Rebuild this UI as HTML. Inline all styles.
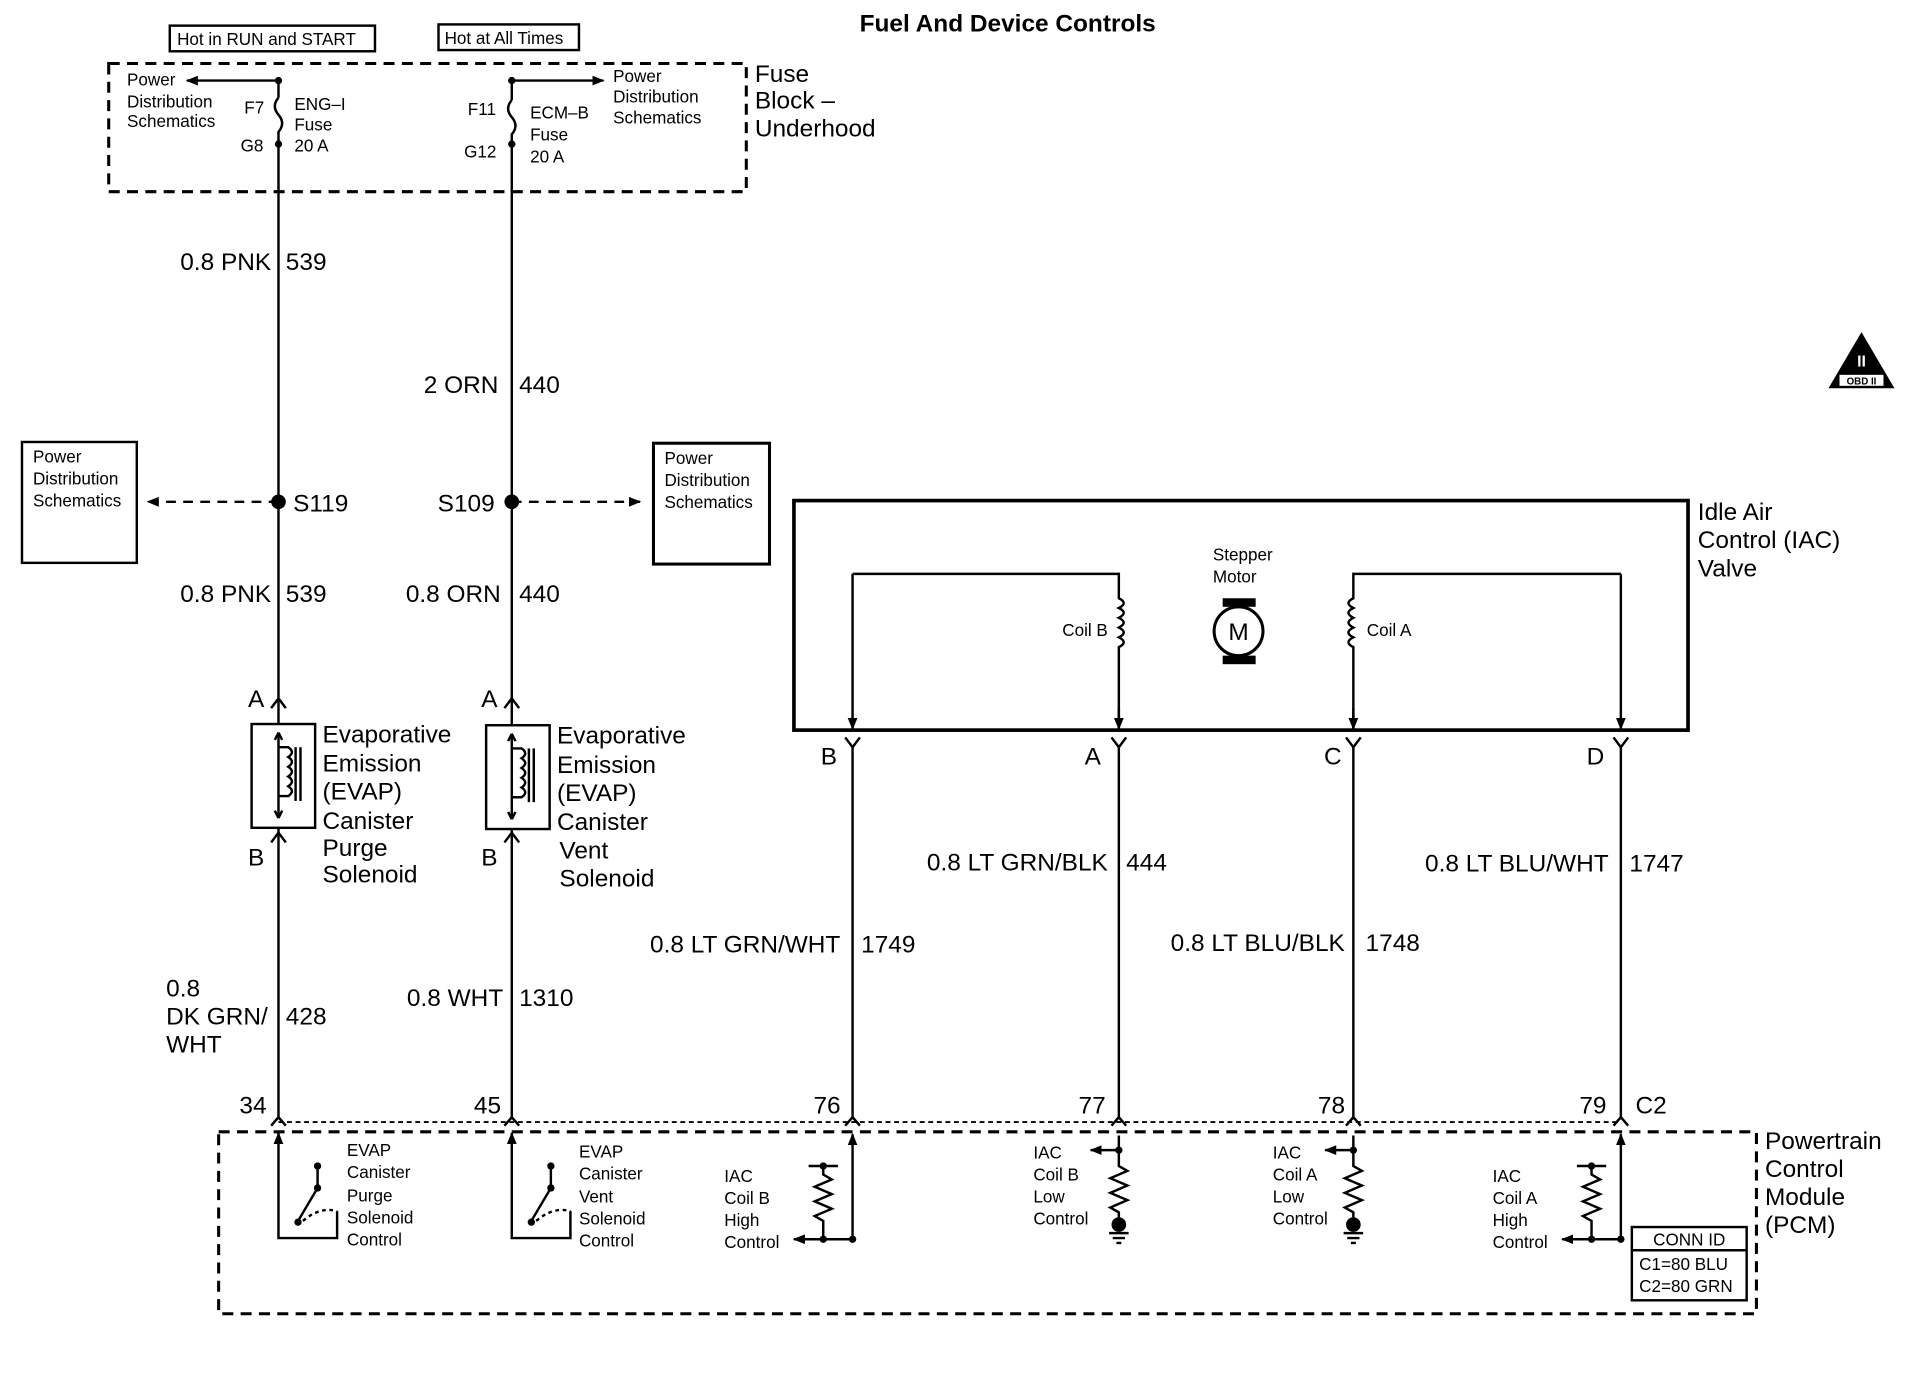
<!DOCTYPE html>
<html><head><meta charset="utf-8"><style>
html,body{margin:0;padding:0;background:#fff;}
svg{display:block;}
text{font-family:"Liberation Sans",Arial,sans-serif;fill:#000;}
.s{font-size:14px;}
.m{font-size:20px;}
.l{font-size:20px;}
</style></head><body>
<svg width="1914" height="1376" viewBox="0 0 1567 1127" preserveAspectRatio="none" xmlns="http://www.w3.org/2000/svg">
<defs>
<marker id="ar" markerWidth="10" markerHeight="10" refX="9" refY="5" orient="auto" markerUnits="userSpaceOnUse"><path d="M0,1 L10,5 L0,9 Z" fill="#000"/></marker>
</defs>
<text x="825" y="26" class="l" font-weight="bold" text-anchor="middle">Fuel And Device Controls</text>
<rect x="139" y="21" width="168" height="21" fill="none" stroke="#000" stroke-width="2"/>
<text x="145" y="37" class="s">Hot in RUN and START</text>
<rect x="359" y="20" width="115" height="21" fill="none" stroke="#000" stroke-width="2"/>
<text x="364" y="36" class="s">Hot at All Times</text>
<rect x="89" y="52" width="522" height="105" fill="none" stroke="#000" stroke-width="2.5" stroke-dasharray="9,6"/>
<text x="618" y="67" class="m">Fuse</text><text x="618" y="89" class="m">Block –</text><text x="618" y="112" class="m">Underhood</text>
<g stroke="#000" stroke-width="2" fill="none">
<line x1="228" y1="66" x2="228" y2="80"/>
<path d="M228,80 q-6,7 0,14 q6,7 0,14 l0,10"/>
<line x1="228" y1="118" x2="228" y2="915"/>
<line x1="228" y1="66" x2="153" y2="66" marker-end="url(#ar)"/>
<line x1="419" y1="66" x2="419" y2="82"/>
<path d="M419,82 q-6,7 0,14 q6,7 0,14 l0,8"/>
<line x1="419" y1="118" x2="419" y2="915"/>
<line x1="419" y1="66" x2="494" y2="66" marker-end="url(#ar)"/>
<line x1="228" y1="411" x2="121" y2="411" stroke-dasharray="8,6" marker-end="url(#ar)"/>
<line x1="419" y1="411" x2="524" y2="411" stroke-dasharray="8,6" marker-end="url(#ar)"/>
<rect x="18" y="362" width="94" height="99"/>
<rect x="535" y="363" width="95" height="99" stroke-width="2.5"/>
</g>
<circle cx="228" cy="66" r="3" fill="#000"/><circle cx="228" cy="118" r="3" fill="#000"/>
<circle cx="419" cy="66" r="3" fill="#000"/><circle cx="419" cy="118" r="3" fill="#000"/>
<circle cx="228" cy="411" r="6" fill="#000"/><circle cx="419" cy="411" r="6" fill="#000"/>
<text x="104" y="70" class="s">Power</text><text x="104" y="88" class="s">Distribution</text><text x="104" y="104" class="s">Schematics</text>
<text x="200" y="93" class="s">F7</text><text x="197" y="124" class="s">G8</text>
<text x="241" y="90" class="s">ENG–I</text><text x="241" y="107" class="s">Fuse</text><text x="241" y="124" class="s">20 A</text>
<text x="502" y="67" class="s">Power</text><text x="502" y="84" class="s">Distribution</text><text x="502" y="101" class="s">Schematics</text>
<text x="383" y="94" class="s">F11</text><text x="380" y="129" class="s">G12</text>
<text x="434" y="97" class="s">ECM–B</text><text x="434" y="115" class="s">Fuse</text><text x="434" y="133" class="s">20 A</text>
<text x="27" y="379" class="s">Power</text><text x="27" y="397" class="s">Distribution</text><text x="27" y="415" class="s">Schematics</text>
<text x="544" y="380" class="s">Power</text><text x="544" y="398" class="s">Distribution</text><text x="544" y="416" class="s">Schematics</text>
<text x="222" y="221" class="m" text-anchor="end">0.8 PNK</text><text x="234" y="221" class="m">539</text>
<text x="408" y="322" class="m" text-anchor="end">2 ORN</text><text x="425" y="322" class="m">440</text>
<text x="240" y="419" class="m">S119</text><text x="405" y="419" class="m" text-anchor="end">S109</text>
<text x="222" y="493" class="m" text-anchor="end">0.8 PNK</text><text x="234" y="493" class="m">539</text>
<text x="410" y="493" class="m" text-anchor="end">0.8 ORN</text><text x="425" y="493" class="m">440</text>
<g stroke="#000" stroke-width="2" fill="#fff">
<rect x="206" y="593" width="52" height="85"/>
<rect x="398" y="594" width="52" height="85"/>
</g>
<g stroke="#000" stroke-width="2" fill="none">
<path d="M222,580 l6,-8 l6,8 M222,690 l6,-8 l6,8"/>
<path d="M413,580 l6,-8 l6,8 M413,690 l6,-8 l6,8"/>
<path d="M228,600 v70 M228,600 l-3,6 M228,600 l3,6 M228,670 l-3,-6 M228,670 l3,-6"/>
<path d="M228,612 h8 q6,4 0,8 q6,4 0,8 q6,4 0,8 q6,4 0,8 q6,4 0,8 h-8"/>
<line x1="242" y1="612" x2="242" y2="656"/><line x1="246" y1="612" x2="246" y2="656"/>
<path d="M419,601 v70 M419,601 l-3,6 M419,601 l3,6 M419,671 l-3,-6 M419,671 l3,-6"/>
<path d="M419,613 h8 q6,4 0,8 q6,4 0,8 q6,4 0,8 q6,4 0,8 q6,4 0,8 h-8"/>
<line x1="433" y1="613" x2="433" y2="657"/><line x1="437" y1="613" x2="437" y2="657"/>
</g>
<text x="203" y="579" class="m">A</text><text x="203" y="709" class="m">B</text>
<text x="394" y="579" class="m">A</text><text x="394" y="709" class="m">B</text>
<text x="264" y="608" class="m">Evaporative</text><text x="264" y="632" class="m">Emission</text><text x="264" y="655" class="m">(EVAP)</text><text x="264" y="679" class="m">Canister</text><text x="264" y="701" class="m">Purge</text><text x="264" y="723" class="m">Solenoid</text>
<text x="456" y="609" class="m">Evaporative</text><text x="456" y="633" class="m">Emission</text><text x="456" y="656" class="m">(EVAP)</text><text x="456" y="680" class="m">Canister</text><text x="458" y="703" class="m">Vent</text><text x="458" y="726" class="m">Solenoid</text>
<text x="136" y="816" class="m">0.8</text><text x="136" y="839" class="m">DK GRN/</text><text x="136" y="862" class="m">WHT</text><text x="234" y="839" class="m">428</text>
<text x="412" y="824" class="m" text-anchor="end">0.8 WHT</text><text x="425" y="824" class="m">1310</text>
<text x="196" y="912" class="m">34</text><text x="388" y="912" class="m">45</text>
<rect x="650" y="410" width="732" height="188" fill="none" stroke="#000" stroke-width="3"/>
<text x="1390" y="426" class="m">Idle Air</text><text x="1390" y="449" class="m">Control (IAC)</text><text x="1390" y="472" class="m">Valve</text>
<g stroke="#000" stroke-width="2" fill="none">
<path d="M698,470 H916 V490 q8,4 0,8 q8,4 0,8 q8,4 0,8 q8,4 0,8 q8,4 0,8 V598"/>
<line x1="698" y1="470" x2="698" y2="597" marker-end="url(#ar)"/>
<line x1="916" y1="580" x2="916" y2="597" marker-end="url(#ar)"/>
<path d="M1327,470 H1108 V490 q-8,4 0,8 q-8,4 0,8 q-8,4 0,8 q-8,4 0,8 q-8,4 0,8 V598"/>
<line x1="1327" y1="470" x2="1327" y2="597" marker-end="url(#ar)"/>
<line x1="1108" y1="580" x2="1108" y2="597" marker-end="url(#ar)"/>
<circle cx="1014" cy="517" r="20" stroke-width="2.5"/>
<path d="M692,604 l6,8 l6,-8 M910,604 l6,8 l6,-8 M1102,604 l6,8 l6,-8 M1321,604 l6,8 l6,-8"/>
<line x1="698" y1="612" x2="698" y2="915"/><line x1="916" y1="612" x2="916" y2="915"/>
<line x1="1108" y1="612" x2="1108" y2="915"/><line x1="1327" y1="612" x2="1327" y2="915"/>
</g>
<rect x="1001" y="490" width="27" height="7" fill="#000"/><rect x="1001" y="537" width="27" height="7" fill="#000"/>
<text x="1014" y="524" class="m" text-anchor="middle">M</text>
<text x="993" y="459" class="s">Stepper</text><text x="993" y="477" class="s">Motor</text>
<text x="907" y="521" class="s" text-anchor="end">Coil B</text><text x="1119" y="521" class="s">Coil A</text>
<text x="672" y="626" class="m">B</text><text x="888" y="626" class="m">A</text><text x="1084" y="626" class="m">C</text><text x="1299" y="626" class="m">D</text>
<text x="907" y="713" class="m" text-anchor="end">0.8 LT GRN/BLK</text><text x="922" y="713" class="m">444</text>
<text x="1317" y="714" class="m" text-anchor="end">0.8 LT BLU/WHT</text><text x="1334" y="714" class="m">1747</text>
<text x="688" y="780" class="m" text-anchor="end">0.8 LT GRN/WHT</text><text x="705" y="780" class="m">1749</text>
<text x="1101" y="779" class="m" text-anchor="end">0.8 LT BLU/BLK</text><text x="1118" y="779" class="m">1748</text>
<text x="666" y="912" class="m">76</text><text x="883" y="912" class="m">77</text><text x="1079" y="912" class="m">78</text><text x="1293" y="912" class="m">79</text><text x="1339" y="912" class="m">C2</text>
<line x1="228" y1="919" x2="1327" y2="919" stroke="#000" stroke-width="1.5" stroke-dasharray="4,3"/>
<rect x="179" y="927" width="1259" height="149" fill="none" stroke="#000" stroke-width="2.5" stroke-dasharray="9,6"/>
<text x="1445" y="941" class="m">Powertrain</text><text x="1445" y="964" class="m">Control</text><text x="1445" y="987" class="m">Module</text><text x="1445" y="1010" class="m">(PCM)</text>
<g stroke="#000" stroke-width="2" fill="none">
<path d="M222,922 l6,-7 l6,7 M413,922 l6,-7 l6,7 M692,922 l6,-7 l6,7 M910,922 l6,-7 l6,7 M1102,922 l6,-7 l6,7 M1321,922 l6,-7 l6,7"/>
<path d="M228,930 V1014 H276 V992"/><line x1="228" y1="931" x2="228" y2="928" marker-end="url(#ar)"/>
<path d="M260,955 V973 L244,1000"/><path d="M248,1000 q14,-12 28,-8" stroke-dasharray="3,3"/>
<path d="M419,930 V1014 H467 V992"/><line x1="419" y1="931" x2="419" y2="928" marker-end="url(#ar)"/>
<path d="M451,955 V973 L435,1000"/><path d="M439,1000 q14,-12 28,-8" stroke-dasharray="3,3"/>
<line x1="698" y1="1015" x2="698" y2="929" marker-end="url(#ar)"/>
<path d="M662,955 H686 M674,955 V962 l7,4 l-14,6 l14,6 l-14,6 l14,6 l-14,6 l7,4 V1015 H698"/>
<line x1="674" y1="1015" x2="650" y2="1015" marker-end="url(#ar)"/>
<line x1="916" y1="942" x2="893" y2="942" marker-end="url(#ar)"/>
<path d="M916,930 V955 l7,4 l-14,6 l14,6 l-14,6 l14,6 l-14,6 l7,4 V1003 M908,1010 h16 M911,1014 h10 M914,1018 h4"/>
<line x1="1108" y1="942" x2="1085" y2="942" marker-end="url(#ar)"/>
<path d="M1108,930 V955 l7,4 l-14,6 l14,6 l-14,6 l14,6 l-14,6 l7,4 V1003 M1100,1010 h16 M1103,1014 h10 M1106,1018 h4"/>
<line x1="1327" y1="1015" x2="1327" y2="929" marker-end="url(#ar)"/>
<path d="M1291,955 H1315 M1303,955 V962 l7,4 l-14,6 l14,6 l-14,6 l14,6 l-14,6 l7,4 V1015 H1327"/>
<line x1="1303" y1="1015" x2="1279" y2="1015" marker-end="url(#ar)"/>
<rect x="1336" y="1005" width="94" height="60"/>
<line x1="1336" y1="1024" x2="1430" y2="1024"/>
</g>
<circle cx="260" cy="955" r="3" fill="#000"/><circle cx="260" cy="973" r="3" fill="#000"/><circle cx="244" cy="1001" r="3" fill="#000"/>
<circle cx="451" cy="955" r="3" fill="#000"/><circle cx="451" cy="973" r="3" fill="#000"/><circle cx="435" cy="1001" r="3" fill="#000"/>
<circle cx="674" cy="955" r="3" fill="#000"/><circle cx="674" cy="1015" r="3" fill="#000"/><circle cx="698" cy="1015" r="3" fill="#000"/>
<circle cx="916" cy="942" r="3" fill="#000"/><circle cx="916" cy="1003" r="6" fill="#000"/>
<circle cx="1108" cy="942" r="3" fill="#000"/><circle cx="1108" cy="1003" r="6" fill="#000"/>
<circle cx="1303" cy="955" r="3" fill="#000"/><circle cx="1303" cy="1015" r="3" fill="#000"/><circle cx="1327" cy="1015" r="3" fill="#000"/>
<text x="284" y="947" class="s">EVAP</text><text x="284" y="965" class="s">Canister</text><text x="284" y="984" class="s">Purge</text><text x="284" y="1002" class="s">Solenoid</text><text x="284" y="1020" class="s">Control</text>
<text x="474" y="948" class="s">EVAP</text><text x="474" y="966" class="s">Canister</text><text x="474" y="985" class="s">Vent</text><text x="474" y="1003" class="s">Solenoid</text><text x="474" y="1021" class="s">Control</text>
<text x="593" y="968" class="s">IAC</text><text x="593" y="986" class="s">Coil B</text><text x="593" y="1004" class="s">High</text><text x="593" y="1022" class="s">Control</text>
<text x="846" y="949" class="s">IAC</text><text x="846" y="967" class="s">Coil B</text><text x="846" y="985" class="s">Low</text><text x="846" y="1003" class="s">Control</text>
<text x="1042" y="949" class="s">IAC</text><text x="1042" y="967" class="s">Coil A</text><text x="1042" y="985" class="s">Low</text><text x="1042" y="1003" class="s">Control</text>
<text x="1222" y="968" class="s">IAC</text><text x="1222" y="986" class="s">Coil A</text><text x="1222" y="1004" class="s">High</text><text x="1222" y="1022" class="s">Control</text>
<text x="1383" y="1020" class="s" text-anchor="middle">CONN ID</text>
<text x="1342" y="1040" class="s">C1=80 BLU</text><text x="1342" y="1058" class="s">C2=80 GRN</text>
<path d="M1524,272 L1497,318 L1551,318 Z" fill="#000"/>
<rect x="1506" y="307" width="36" height="9" fill="#fff"/>
<text x="1524" y="300" font-size="13" font-weight="bold" text-anchor="middle" style="fill:#fff">II</text>
<text x="1524" y="315" font-size="8" font-weight="bold" text-anchor="middle">OBD II</text>
</svg>
</body></html>
